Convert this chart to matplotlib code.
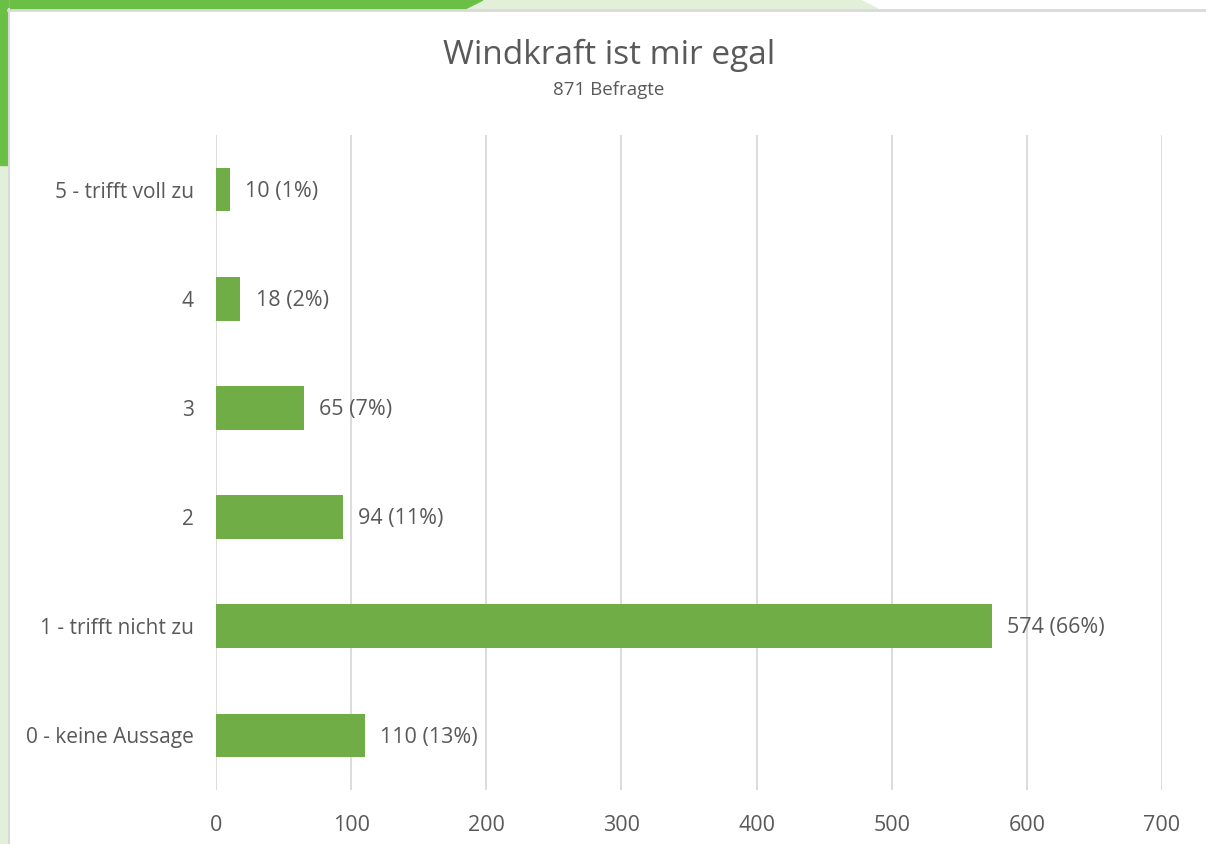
import matplotlib.pyplot as plt
from matplotlib.patches import Polygon, Rectangle

categories = ['0 - keine Aussage', '1 - trifft nicht zu', '2', '3', '4', '5 - trifft voll zu']
counts = [110, 574, 94, 65, 18, 10]
percents = [13, 66, 11, 7, 2, 1]
xticks = [0, 100, 200, 300, 400, 500, 600, 700]

plt.rcParams['font.family'] = ['Open Sans', 'DejaVu Sans']
text_color = '#595959'
bar_color = '#70AD47'

W, H = 1206, 844
fig = plt.figure(figsize=(W / 100, H / 100), dpi=100)


def fx(px):
    return px / W


def fy(py):
    return 1 - py / H


# frame decorations
light = '#E2EFD9'
green = '#6ABF45'
fig.patches.append(Polygon([(fx(0), fy(0)), (fx(860), fy(0)), (fx(878), fy(9)), (fx(0), fy(9))],
                           closed=True, transform=fig.transFigure, color=light, zorder=0))
fig.patches.append(Polygon([(fx(0), fy(0)), (fx(483), fy(0)), (fx(465), fy(9)), (fx(0), fy(9))],
                           closed=True, transform=fig.transFigure, color=green, zorder=0))
fig.patches.append(Rectangle((fx(0), fy(H)), fx(8), 1, transform=fig.transFigure, color=light, zorder=0))
fig.patches.append(Rectangle((fx(0), fy(165)), fx(8), 165 / H, transform=fig.transFigure, color=green, zorder=0))
fig.lines.append(plt.Line2D([fx(8), fx(W)], [fy(9.5), fy(9.5)], transform=fig.transFigure, color='#D9D9D9', lw=2))
fig.lines.append(plt.Line2D([fx(8.5), fx(8.5)], [fy(9), fy(H)], transform=fig.transFigure, color='#D9D9D9', lw=1.5))

ax = fig.add_axes([fx(216), fy(790), fx(1162) - fx(216), (790 - 135) / H])
ax.barh(range(len(categories)), counts, height=0.4, color=bar_color, zorder=3)
for i, (c, p) in enumerate(zip(counts, percents)):
    ax.annotate(f'{c} ({p}%)', (c, i - 0.015), xytext=(11, 0), textcoords='offset points',
                va='center', ha='left', fontsize=15.5, color=text_color)

ax.set_xlim(0, 700)
ax.set_ylim(-0.5, 5.5)
ax.set_xticks(xticks)
ax.set_yticks(range(len(categories)))
ax.set_yticklabels(categories)
ax.tick_params(axis='both', length=0, labelsize=15.5, labelcolor=text_color)
ax.tick_params(axis='y', pad=16, labelsize=15)
ax.tick_params(axis='x', pad=18)
ax.grid(axis='x', color='#D9D9D9', lw=1.3, zorder=0)
for s in ax.spines.values():
    s.set_visible(False)

fig.text(0.505, fy(55), 'Windkraft ist mir egal', ha='center', va='center', fontsize=24, color=text_color)
fig.text(0.505, fy(90), '871 Befragte', ha='center', va='center', fontsize=13.5, color=text_color)

fig.savefig('out.png', dpi=100)
